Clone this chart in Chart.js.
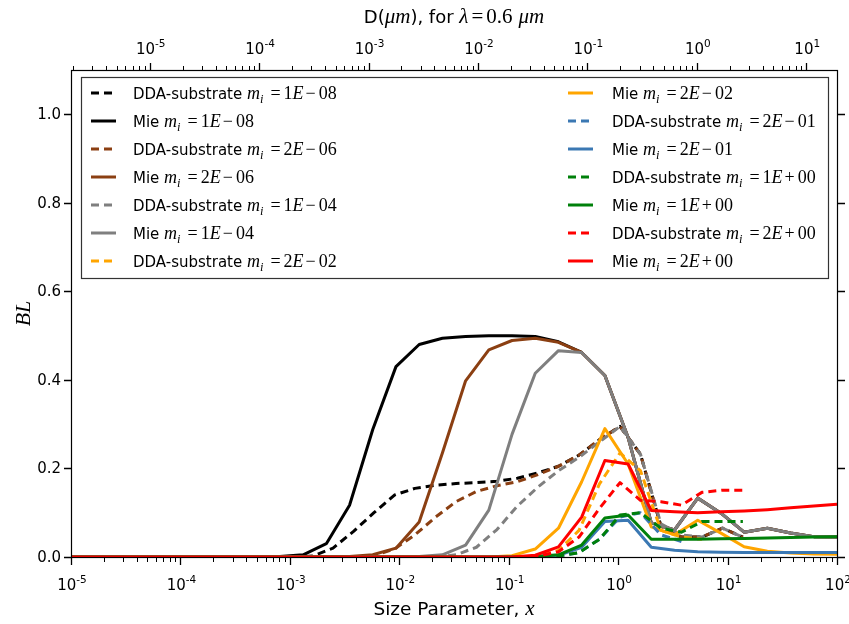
<!DOCTYPE html>
<html>
<head>
<meta charset="utf-8">
<script src="https://cdn.jsdelivr.net/npm/chart.js@4.4.1/dist/chart.umd.min.js"></script>
<style>
  html, body { margin: 0; padding: 0; background: #fff; }
  #wrap { width: 849px; height: 624px; }
</style>
</head>
<body>
<div id="wrap"><canvas id="bl-chart" width="849" height="624"></canvas></div>
<script>
(function () {

    "use strict";

    // size parameter grid of the Mie runs
    var xMie = [1.0e-5, 1.630e-5, 2.656e-5, 4.329e-5, 7.055e-5, 1.150e-4, 1.874e-4, 3.054e-4,
                4.977e-4, 8.111e-4, 1.322e-3, 2.154e-3, 3.511e-3, 5.722e-3, 9.326e-3, 1.520e-2,
                2.477e-2, 4.037e-2, 6.579e-2, 0.1072, 0.1748, 0.2848, 0.4642, 0.7565,
                1.233, 2.009, 3.275, 5.337, 8.697, 14.17, 23.10, 37.65, 61.36, 100];

    // size parameter grid of the DDA-substrate runs
    var xDda = [0.00105, 0.00161, 0.00248, 0.00382, 0.00587, 0.00904, 0.0139, 0.0214,
                0.0330, 0.0507, 0.0781, 0.120, 0.185, 0.285, 0.439, 0.675,
                1.04, 1.60, 2.46, 3.79, 5.83, 8.98, 13.8];

    var miText = ['1E\u221208', '2E\u221206', '1E\u221204', '2E\u221202', '2E\u221201', '1E+00', '2E+00'];
    var colors = ['#000000', '#8b3f12', '#7f7f7f', '#ffa500', '#3b78b3', '#00800a', '#ff0000'];

    // BL, Mie
    var mie1e8 = [0, 0, 0, 0, 0, 0, 0, 0, 0, 0.001, 0.005, 0.03, 0.117, 0.288, 0.43, 0.48,
                  0.494, 0.498, 0.5, 0.5, 0.498, 0.486, 0.462, 0.41, 0.27, 0.077, 0.061, 0.133,
                  0.099, 0.056, 0.065, 0.054, 0.046, 0.045];
    var mie2e6 = [0, 0, 0, 0, 0, 0, 0, 0, 0, 0, 0, 0, 0.001, 0.005, 0.02, 0.079,
                  0.235, 0.398, 0.468, 0.489, 0.494, 0.485, 0.462, 0.41, 0.27, 0.077, 0.061, 0.133,
                  0.099, 0.056, 0.065, 0.054, 0.046, 0.045];
    var mie1e4 = [0, 0, 0, 0, 0, 0, 0, 0, 0, 0, 0, 0, 0, 0, 0, 0.001,
                  0.005, 0.027, 0.106, 0.277, 0.415, 0.466, 0.462, 0.41, 0.27, 0.077, 0.061, 0.133,
                  0.099, 0.056, 0.065, 0.054, 0.046, 0.045];
    var mie2e2 = [0, 0, 0, 0, 0, 0, 0, 0, 0, 0, 0, 0, 0, 0, 0, 0,
                  0, 0, 0, 0.003, 0.018, 0.065, 0.17, 0.29, 0.21, 0.068, 0.05, 0.083,
                  0.054, 0.023, 0.013, 0.009, 0.007, 0.006];
    var mie2e1 = [0, 0, 0, 0, 0, 0, 0, 0, 0, 0, 0, 0, 0, 0, 0, 0,
                  0, 0, 0, 0, 0.001, 0.004, 0.022, 0.08, 0.083, 0.022, 0.015, 0.012,
                  0.011, 0.01, 0.01, 0.01, 0.01, 0.01];
    var mie1e0 = [0, 0, 0, 0, 0, 0, 0, 0, 0, 0, 0, 0, 0, 0, 0, 0,
                  0, 0, 0, 0, 0.001, 0.005, 0.027, 0.088, 0.095, 0.04, 0.04, 0.04,
                  0.041, 0.042, 0.043, 0.044, 0.045, 0.046];
    var mie2e0 = [0, 0, 0, 0, 0, 0, 0, 0, 0, 0, 0, 0, 0, 0, 0, 0,
                  0, 0, 0, 0, 0.004, 0.023, 0.09, 0.218, 0.21, 0.105, 0.102, 0.1,
                  0.102, 0.104, 0.107, 0.111, 0.115, 0.119];

    // BL, DDA-substrate
    var dda1e8 = [0, 0.002, 0.02, 0.058, 0.1, 0.14, 0.155, 0.162, 0.166, 0.168, 0.171, 0.178,
                  0.19, 0.205, 0.23, 0.265, 0.295, 0.232, 0.07, 0.045, 0.045, 0.065, 0.045];
    var dda2e6 = [0, 0, 0, 0, 0.003, 0.018, 0.05, 0.09, 0.125, 0.148, 0.161, 0.17,
                  0.186, 0.205, 0.23, 0.265, 0.295, 0.232, 0.07, 0.045, 0.045, 0.065, 0.045];
    var dda1e4 = [0, 0, 0, 0, 0, 0, 0, 0, 0.005, 0.022, 0.062, 0.115,
                  0.158, 0.195, 0.225, 0.26, 0.295, 0.232, 0.075, 0.05, 0.045, 0.065, 0.045];
    var dda2e2 = [null, null, null, null, null, null, null, null, null, null, null, 0,
                  0.002, 0.015, 0.06, 0.165, 0.235, 0.195, 0.06, 0.045, 0.04, null, null];
    var dda2e1 = [null, null, null, null, null, null, null, null, null, null, null, 0,
                  0, 0.002, 0.01, 0.04, 0.09, 0.1, 0.05, 0.035, null, null, null];
    var dda1e0 = [null, null, null, null, null, null, null, null, null, null, null, 0,
                  0, 0.002, 0.01, 0.04, 0.095, 0.1, 0.065, 0.056, 0.08, 0.08, 0.08];
    var dda2e0 = [null, null, null, null, null, null, null, null, null, null, null, 0,
                  0.002, 0.012, 0.045, 0.11, 0.168, 0.128, 0.125, 0.117, 0.146, 0.151, 0.151];

    var ddaSeries = [dda1e8, dda2e6, dda1e4, dda2e2, dda2e1, dda1e0, dda2e0];
    var mieSeries = [mie1e8, mie2e6, mie1e4, mie2e2, mie2e1, mie1e0, mie2e0];

    var xTicks = [1e-5, 1e-4, 1e-3, 1e-2, 1e-1, 1e0, 1e1, 1e2];
    var dTicks = [1e-5, 1e-4, 1e-3, 1e-2, 1e-1, 1e0, 1e1];
    var yTicks = [0.0, 0.2, 0.4, 0.6, 0.8, 1.0];

    var lambda = 0.6;   // um

    var SANS = '"DejaVu Sans", sans-serif';
    var SERIF = '"Liberation Serif", "DejaVu Serif", serif';
    var LINE_W = 3;

    function toPoints(xs, ys) {
        var pts = [];
        for (var i = 0; i < xs.length; i++) {
            pts.push({ x: xs[i], y: ys[i] });
        }
        return pts;
    }

    var datasets = [];
    var n = miText.length;
    for (var i = 0; i < n; i++) {
        datasets.push({
            kind: 'DDA-substrate', mi: miText[i],
            data: toPoints(xDda, ddaSeries[i]),
            borderColor: colors[i], borderWidth: LINE_W, borderDash: [8, 5],
            pointRadius: 0, tension: 0, fill: false, spanGaps: false,
            borderJoinStyle: 'round', borderCapStyle: 'butt',
            order: 2 * n - 2 * i
        });
        datasets.push({
            kind: 'Mie', mi: miText[i],
            data: toPoints(xMie, mieSeries[i]),
            borderColor: colors[i], borderWidth: LINE_W,
            pointRadius: 0, tension: 0, fill: false,
            borderJoinStyle: 'round', borderCapStyle: 'butt',
            order: 2 * n - 2 * i - 1
        });
    }

    // mixed-font text, parts = [{t, f, dy}] or [{gap}]
    function richWidth(ctx, parts) {
        var w = 0;
        parts.forEach(function (p) {
            if (p.gap) { w += p.gap; return; }
            ctx.font = p.f; w += ctx.measureText(p.t).width;
        });
        return w;
    }
    function drawRich(ctx, parts, x, y, align) {
        var w = richWidth(ctx, parts);
        var cx = align === 'center' ? x - w / 2 : (align === 'right' ? x - w : x);
        ctx.textAlign = 'left';
        ctx.textBaseline = 'alphabetic';
        parts.forEach(function (p) {
            if (p.gap) { cx += p.gap; return; }
            ctx.font = p.f;
            ctx.fillText(p.t, cx, y + (p.dy || 0));
            cx += ctx.measureText(p.t).width;
        });
    }
    function powParts(v) {
        var e = Math.round(Math.log10(v));
        return [{ t: '10', f: '15px ' + SANS }, { t: (e < 0 ? '-' : '') + Math.abs(e), f: '10.5px ' + SANS, dy: -7 }];
    }
    function legendParts(ds) {
        var mant = ds.mi.charAt(0), sign = ds.mi.charAt(2), ex = ds.mi.substr(3);
        return [
            { t: ds.kind + ' ', f: '15px ' + SANS },
            { t: 'm', f: 'italic 18px ' + SERIF },
            { t: 'i', f: 'italic 12.5px ' + SERIF, dy: 4 },
            { gap: 7 },
            { t: '=', f: '18px ' + SERIF },
            { gap: 3 },
            { t: mant, f: '18px ' + SERIF },
            { t: 'E', f: 'italic 18px ' + SERIF },
            { gap: 2 },
            { t: sign, f: '18px ' + SERIF },
            { gap: 3 },
            { t: ex, f: '18px ' + SERIF }
        ];
    }

    var framePlugin = {
        id: 'frame',
        afterDraw: function (chart) {
            var ctx = chart.ctx, a = chart.chartArea;
            var sx = chart.scales.x, sd = chart.scales.xTop, sy = chart.scales.y;
            ctx.save();
            ctx.strokeStyle = '#000';
            ctx.fillStyle = '#000';

            // axes box
            ctx.lineWidth = 1.2;
            ctx.strokeRect(a.left + 0.5, a.top + 0.5, a.right - a.left, a.bottom - a.top);

            // log ticks, bottom (x) and top (D)
            function logTicks(scale, lo, hi, y0, dir) {
                for (var d = lo; d <= hi; d++) {
                    for (var m = 1; m < 10; m++) {
                        var v = m * Math.pow(10, d);
                        if (v < scale.min * 0.999 || v > scale.max * 1.001) continue;
                        var px = Math.round(scale.getPixelForValue(v)) + 0.5;
                        var len = m === 1 ? 7 : 4;
                        ctx.lineWidth = m === 1 ? 1.3 : 1;
                        ctx.beginPath();
                        ctx.moveTo(px, y0);
                        ctx.lineTo(px, y0 + dir * len);
                        ctx.stroke();
                    }
                }
            }
            logTicks(sx, -5, 2, a.bottom + 1, 1);
            logTicks(sd, -6, 1, a.top, -1);

            // y ticks, both sides
            ctx.lineWidth = 1.3;
            yTicks.forEach(function (v) {
                var py = Math.round(sy.getPixelForValue(v)) + 0.5;
                ctx.beginPath();
                ctx.moveTo(a.left, py); ctx.lineTo(a.left - 7, py);
                ctx.moveTo(a.right + 1, py); ctx.lineTo(a.right + 8, py);
                ctx.stroke();
            });

            // tick labels
            xTicks.forEach(function (v) {
                drawRich(ctx, powParts(v), sx.getPixelForValue(v) + 1, a.bottom + 33, 'center');
            });
            dTicks.forEach(function (v) {
                drawRich(ctx, powParts(v), sd.getPixelForValue(v) + 1, a.top - 16, 'center');
            });
            ctx.font = '15px ' + SANS;
            ctx.textAlign = 'right';
            ctx.textBaseline = 'middle';
            yTicks.forEach(function (v) {
                ctx.fillText(v.toFixed(1), a.left - 10, sy.getPixelForValue(v) + 1);
            });

            // axis titles
            var cx = (a.left + a.right) / 2;
            drawRich(ctx, [
                { t: 'Size Parameter, ', f: '18.5px ' + SANS },
                { t: 'x', f: 'italic 21px ' + SERIF }
            ], cx, a.bottom + 58, 'center');
            drawRich(ctx, [
                { t: 'D(', f: '18px ' + SANS },
                { t: '\u03bcm', f: 'italic 21px ' + SERIF },
                { t: '), for ', f: '18px ' + SANS },
                { t: '\u03bb', f: 'italic 21px ' + SERIF },
                { gap: 3 },
                { t: '=', f: '21px ' + SERIF },
                { gap: 3 },
                { t: '0.6', f: '21px ' + SERIF },
                { gap: 6 },
                { t: '\u03bcm', f: 'italic 21px ' + SERIF }
            ], cx, a.top - 47, 'center');
            ctx.save();
            ctx.translate(30, (a.top + a.bottom) / 2);
            ctx.rotate(-Math.PI / 2);
            drawRich(ctx, [{ t: 'BL', f: 'italic 22px ' + SERIF }], 0, 0, 'center');
            ctx.restore();

            // legend, two columns filled top to bottom
            var box = { x: 81, y: 77, w: 747, h: 201 };
            ctx.fillStyle = '#fff';
            ctx.fillRect(box.x, box.y, box.w, box.h);
            ctx.strokeStyle = '#333';
            ctx.lineWidth = 1.2;
            ctx.strokeRect(box.x + 0.5, box.y + 0.5, box.w, box.h);
            var cols = [{ lx: 91, tx: 133 }, { lx: 568, tx: 612 }];
            var ds = chart.data.datasets;
            for (var k = 0; k < ds.length; k++) {
                var col = cols[k < 7 ? 0 : 1];
                var row = k % 7;
                var ry = 93 + row * 28;
                ctx.strokeStyle = ds[k].borderColor;
                ctx.lineWidth = LINE_W;
                ctx.lineCap = 'butt';
                ctx.setLineDash(ds[k].borderDash || []);
                ctx.beginPath();
                ctx.moveTo(col.lx, ry);
                ctx.lineTo(col.lx + (ds[k].borderDash ? 21 : 25), ry);
                ctx.stroke();
                ctx.setLineDash([]);
                ctx.fillStyle = '#000';
                drawRich(ctx, legendParts(ds[k]), col.tx, ry + 6, 'left');
            }
            ctx.restore();
        }
    };

    var ctx = document.getElementById('bl-chart').getContext('2d');
    new Chart(ctx, {
        type: 'line',
        data: { datasets: datasets },
        options: {
            responsive: false,
            animation: false,
            devicePixelRatio: 1,
            layout: { padding: { left: 0, right: 12, top: 0, bottom: 0 } },
            plugins: { legend: { display: false }, tooltip: { enabled: false } },
            scales: {
                x: {
                    type: 'logarithmic', position: 'bottom',
                    min: 1e-5, max: 1e2,
                    grid: { display: false }, border: { display: false },
                    ticks: { display: false },
                    afterFit: function (s) { s.height = 67; }
                },
                xTop: {
                    type: 'logarithmic', position: 'top',
                    min: 1e-5 * lambda / Math.PI, max: 1e2 * lambda / Math.PI,
                    grid: { display: false }, border: { display: false },
                    ticks: { display: false },
                    afterFit: function (s) { s.height = 70; }
                },
                y: {
                    type: 'linear', min: 0, max: 1.1,
                    grid: { display: false }, border: { display: false },
                    ticks: { display: false },
                    afterFit: function (s) { s.width = 71; }
                }
            }
        },
        plugins: [framePlugin]
    });

})();
</script>
</body>
</html>
